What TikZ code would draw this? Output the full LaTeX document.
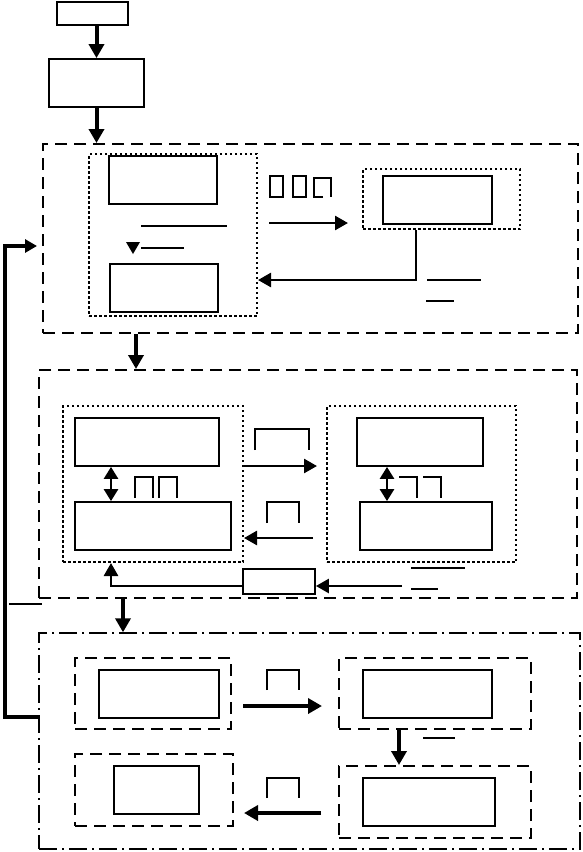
\documentclass[tikz,border=0pt]{standalone}
\usetikzlibrary{arrows.meta,fit}
\tikzset{
  bx/.style={draw, line width=1.8pt, inner sep=0pt},
  dashbox/.style={draw, line width=2pt, inner sep=0pt, dash pattern=on 12pt off 7pt},
  dotbox/.style={draw, line width=2pt, inner sep=0pt, dash pattern=on 2.5pt off 2.5pt},
  ddbox/.style={draw, line width=1.4pt, inner sep=0pt, dash pattern=on 18pt off 5pt on 2pt off 5pt},
  arrA/.style={line width=4pt, -{Triangle[length=14pt,width=15pt]}},
  arrB/.style={line width=2.6pt, -{Triangle[length=13pt,width=14pt]}},
  dbl/.style={line width=2.6pt, {Triangle[length=12pt,width=14pt]}-{Triangle[length=12pt,width=14pt]}},
  thin/.style={line width=1.5pt},
  rule/.style={line width=2.4pt}
}
\begin{document}
\begin{tikzpicture}[x=1pt,y=-1pt]
\useasboundingbox (0,0) rectangle (582,852);
% top boxes
\node[bx, fit={(57,2) (128,25)}] (t1) {};
\node[bx, fit={(49,59) (144,107)}] (t2) {};
% group 1
\node[dashbox, fit={(43,144) (578,333)}] (g1) {};
\draw[arrA] (t2.north |- t1.south) -- (t2.north);
\draw[arrA] (t2.south) -- (t2.south |- g1.north);
\node[dotbox, fit={(89,154) (257,316)}] (d1) {};
\node[bx, fit={(109,156) (217,204)}] (a1) {};
\node[bx, fit={(110,264) (218,312)}] (b1) {};
\draw[rule] (141,226) -- (227,226);
\fill (126,242) -- (140,242) -- (133,254) -- cycle;
\draw[rule] (141,248) -- (184,248);
\draw[thin] (270,176) rectangle (283,197);
\draw[thin] (293,176) rectangle (306,197);
\draw[thin] (323,197) -- (314,197) -- (314,178) -- (331,178) -- (331,197);
\node[dotbox, fit={(363,169) (520,229)}] (d2) {};
\node[bx, fit={(383,176) (492,224)}] (c1) {};
\coordinate (s1) at (269,223);
\coordinate (e1) at (348,223);
\draw[arrB] (s1) -- (e1);
\coordinate (k1) at (416,280);
\draw[arrB] (k1 |- d2.south) -- (k1) -- (k1 -| d1.east);
\draw[thin] (427,280) -- (481,280);
\draw[thin] (426,301) -- (454,301);
% group 2
\node[dashbox, fit={(39,370) (577,598)}] (g2) {};
\coordinate (k2) at (136,350);
\draw[arrA] (k2 |- g1.south) -- (k2 |- g2.north);
\node[dotbox, fit={(63,406) (243,562)}] (d3) {};
\node[bx, fit={(75,418) (219,466)}] (dD) {};
\node[bx, fit={(75,502) (231,550)}] (dE) {};
\coordinate (k3) at (111,480);
\draw[dbl] (k3 |- dD.south) -- (k3 |- dE.north);
\draw[thin] (135,498) -- (135,477) -- (153,477) -- (153,498);
\draw[thin] (159,498) -- (159,477) -- (177,477) -- (177,498);
\node[dotbox, fit={(327,406) (516,562)}] (d4) {};
\node[bx, fit={(357,418) (483,466)}] (dF) {};
\node[bx, fit={(360,502) (492,550)}] (dG) {};
\coordinate (k4) at (387,480);
\draw[dbl] (k4 |- dF.south) -- (k4 |- dG.north);
\draw[thin] (399,477) -- (417,477) -- (417,498);
\draw[thin] (423,477) -- (441,477) -- (441,498);
\coordinate (e2) at (317,466);
\draw[arrB] (e2 -| d3.east) -- (e2);
\draw[thin] (255,450) -- (255,429) -- (309,429) -- (309,450);
\coordinate (s3) at (313,538);
\draw[arrB] (s3) -- (s3 -| d3.east);
\draw[thin] (267,523) -- (267,502) -- (299,502) -- (299,523);
\draw[thin] (411,568) -- (465,568);
\draw[thin] (411,589) -- (438,589);
\node[bx, fit={(243,569) (315,594)}] (h1) {};
\coordinate (s4) at (402,586);
\draw[arrB] (s4) -- (s4 -| h1.east);
\coordinate (k5) at (111,586);
\draw[arrB] (k5 -| h1.west) -- (k5) -- (k5 |- d3.south);
\draw[thin] (9,604) -- (42,604);
% group 3
\node[ddbox, fit={(39,633) (580,849)}] (g3) {};
\coordinate (k6) at (123,610);
\draw[arrA] (k6 |- g2.south) -- (k6 |- g3.north);
\node[dashbox, fit={(75,658) (231,729)}] (gi) {};
\node[bx, fit={(99,670) (219,718)}] (gj) {};
\node[dashbox, fit={(75,754) (233,826)}] (gk) {};
\node[bx, fit={(114,766) (199,814)}] (gl) {};
\node[dashbox, fit={(339,658) (531,729)}] (gm) {};
\node[bx, fit={(363,670) (492,718)}] (gn) {};
\node[dashbox, fit={(339,766) (531,838)}] (go) {};
\node[bx, fit={(363,778) (495,826)}] (gp) {};
\coordinate (s5) at (243,706);
\coordinate (e5) at (322,706);
\draw[arrA] (s5) -- (e5);
\draw[thin] (267,690) -- (267,670) -- (299,670) -- (299,690);
\coordinate (s6) at (321,813);
\coordinate (e6) at (244,813);
\draw[arrA] (s6) -- (e6);
\draw[thin] (267,798) -- (267,778) -- (299,778) -- (299,798);
\coordinate (k7) at (399,740);
\draw[arrA] (k7 |- gm.south) -- (k7 |- go.north);
\draw[thin] (423,738) -- (455,738);
% feedback
\coordinate (f1) at (5,717);
\coordinate (f2) at (5,246);
\coordinate (f3) at (37,246);
\draw[line width=4pt, -{Triangle[length=12pt,width=13pt]}] (f1 -| g3.west) -- (f1) -- (f2) -- (f3);
\end{tikzpicture}
\end{document}
